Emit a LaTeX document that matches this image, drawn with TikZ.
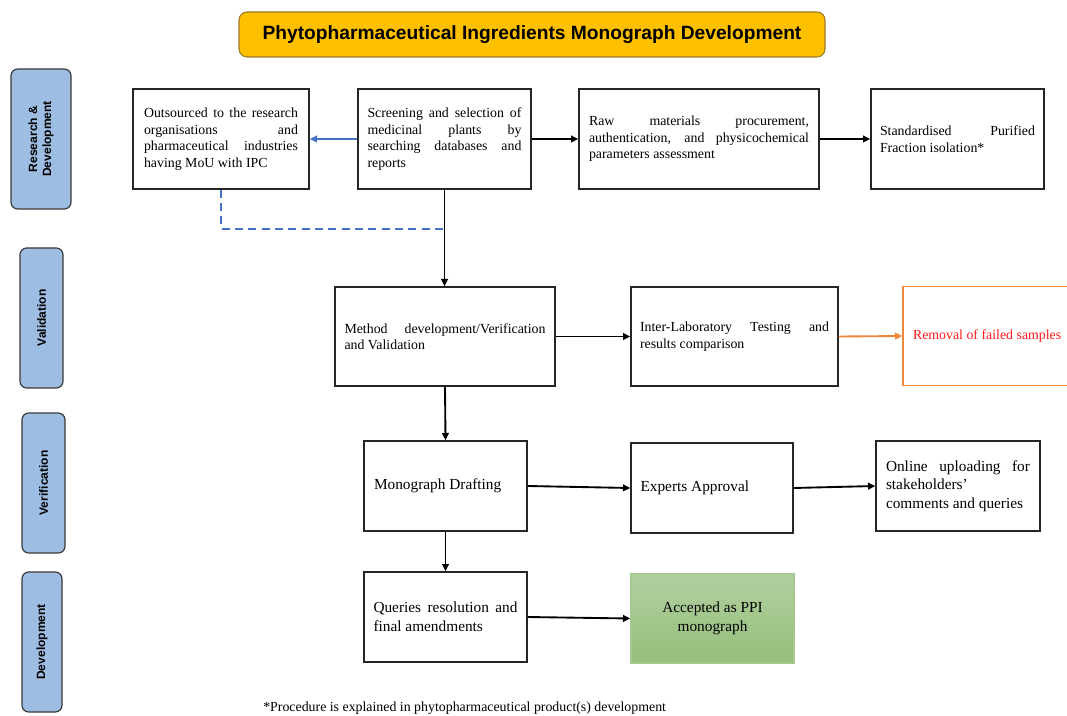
\documentclass[tikz,border=0pt]{standalone}
\usepackage{fontspec}
\setmainfont{Liberation Serif}
\newfontfamily\arialfont{Liberation Sans}
\usetikzlibrary{arrows.meta}
\definecolor{titleorange}{HTML}{FFC000}
\definecolor{titleborder}{HTML}{9C7A28}
\definecolor{lanefill}{HTML}{9DBDE3}
\definecolor{laneborder}{HTML}{3A3A3A}
\definecolor{linkblue}{HTML}{4472C4}
\definecolor{orangeline}{HTML}{F0863A}
\definecolor{redtext}{HTML}{FF1A1A}
\definecolor{greentop}{HTML}{B2CFA0}
\definecolor{greenbot}{HTML}{94BF7A}
\definecolor{greenborder}{HTML}{A3C98E}
\newcommand\jline[1]{\makebox[\linewidth][s]{#1}\\}
\begin{document}
\begin{tikzpicture}[x=0.75pt,y=-0.75pt,
  box/.style={draw=black!85, line width=1pt, fill=white, inner sep=0pt, align=left},
  smalltext/.style={font=\fontsize{10.4}{12.4}\selectfont},
  bigtext/.style={font=\fontsize{11.5}{13.9}\selectfont},
  lane/.style={draw=laneborder, line width=0.9pt, fill=lanefill, rounded corners=5pt, inner sep=0pt},
  lanetext/.style={font=\arialfont\bfseries\fontsize{9}{10.5}\selectfont, rotate=90, align=center},
  arr/.style={line width=1.4pt, -{Triangle[length=5.5pt,width=5pt]}},
  titlebox/.style={draw=titleborder, line width=0.8pt, fill=titleorange, rounded corners=6pt,
    font=\arialfont\bfseries\fontsize{14.4}{16}\selectfont}
]
\useasboundingbox (0,0) rectangle (1067,716);

% title
\node[titlebox, minimum width=439.5pt, minimum height=33.75pt] (title) at (532,34.5)
  {Phytopharmaceutical Ingredients Monograph Development};

% lanes
\node[lane, minimum width=45pt, minimum height=105pt] (laneRD) at (41,139) {};
\node[lanetext] (laneRDt) at (laneRD.center) {Research \&\\Development};
\node[lane, minimum width=32.25pt, minimum height=105pt] (laneVa) at (41.5,318) {};
\node[lanetext] (laneVat) at (laneVa.center) {Validation};
\node[lane, minimum width=32.25pt, minimum height=105pt] (laneVe) at (43.5,483) {};
\node[lanetext] (laneVet) at (laneVe.center) {Verification};
\node[lane, minimum width=30pt, minimum height=105pt] (laneDe) at (42,642) {};
\node[lanetext] (laneDet) at (laneDe.center) {Development};

% row 1
\node[box, smalltext, minimum width=132pt, minimum height=75pt] (A) at (221,139)
  {\parbox{115.5pt}{\raggedright\jline{Outsourced to the research}\jline{organisations and}\jline{pharmaceutical industries}having MoU with IPC}};
\node[box, smalltext, minimum width=129.75pt, minimum height=75pt] (B) at (444.5,139)
  {\parbox{115.5pt}{\raggedright\jline{Screening and selection of}\jline{medicinal plants by}\jline{searching databases and}reports}};
\node[box, smalltext, minimum width=180pt, minimum height=75pt] (C) at (699,139)
  {\parbox{165pt}{\raggedright\jline{Raw materials procurement,}\jline{authentication, and physicochemical}parameters assessment}};
\node[box, smalltext, minimum width=129.75pt, minimum height=75pt] (D) at (957.5,139)
  {\parbox{116.25pt}{\raggedright\jline{Standardised Purified}Fraction isolation*}};

% row 2
\node[box, smalltext, minimum width=165pt, minimum height=74.25pt] (M) at (445,336.5)
  {\parbox{150.75pt}{\raggedright\jline{Method development/Verification}and Validation}};
\node[box, smalltext, minimum width=155.25pt, minimum height=74.25pt] (I) at (734.5,336.5)
  {\parbox{141.75pt}{\raggedright\jline{Inter-Laboratory Testing and}results comparison}};
\node[box, smalltext, draw=orangeline, minimum width=136.5pt, minimum height=74.25pt, text=redtext] (R) at (994,336)
  {\parbox{121.5pt}{\raggedright Removal of failed samples}};

% row 3
\node[box, bigtext, minimum width=122.25pt, minimum height=67.5pt] (MD) at (445.5,486)
  {\parbox{107.25pt}{\raggedright Monograph Drafting}};
\node[box, bigtext, minimum width=121.5pt, minimum height=67.5pt] (E) at (712,488)
  {\parbox{107.25pt}{\raggedright Experts Approval}};
\node[box, bigtext, minimum width=123pt, minimum height=67.5pt] (O) at (958,486)
  {\parbox{108pt}{\raggedright\jline{Online uploading for}stakeholders'\\comments and queries}};

% row 4
\node[box, bigtext, minimum width=122.25pt, minimum height=67.5pt] (Q) at (445.5,617)
  {\parbox{108pt}{\raggedright\jline{Queries resolution and}final amendments}};
\node[box, bigtext, draw=greenborder, top color=greentop, bottom color=greenbot,
  minimum width=122.25pt, minimum height=66.75pt, align=center] (P) at (712.5,618.5)
  {Accepted as PPI\\monograph};

% footnote
\node[anchor=base west, font=\fontsize{10.4}{12.4}\selectfont, inner sep=0pt] (note) at (263,711.5)
  {*Procedure is explained in phytopharmaceutical product(s) development};

% connectors
\draw[arr, draw=linkblue, -{Triangle[length=5.5pt,width=5pt,fill=linkblue]}] (B.west) -- (A.east);
\draw[arr] (B.east) -- (C.west);
\draw[arr] (C.east) -- (D.west);
\draw[arr] (B.south) -- (B.south |- M.north);
\coordinate (j) at (444.5,229);
\draw[linkblue, line width=1.2pt, dash pattern=on 6pt off 4pt] (A.south) |- (j);
\draw[arr] (M.east) -- (I.west);
\draw[arr, draw=orangeline] (I.east) -- (R.west);
\draw[arr] (M.south) -- (MD.north);
\draw[arr] (MD.east) -- (E.west);
\draw[arr] (E.east) -- (O.west);
\draw[arr] (MD.south) -- (Q.north);
\draw[arr] (Q.east) -- (P.west);
\end{tikzpicture}
\end{document}
